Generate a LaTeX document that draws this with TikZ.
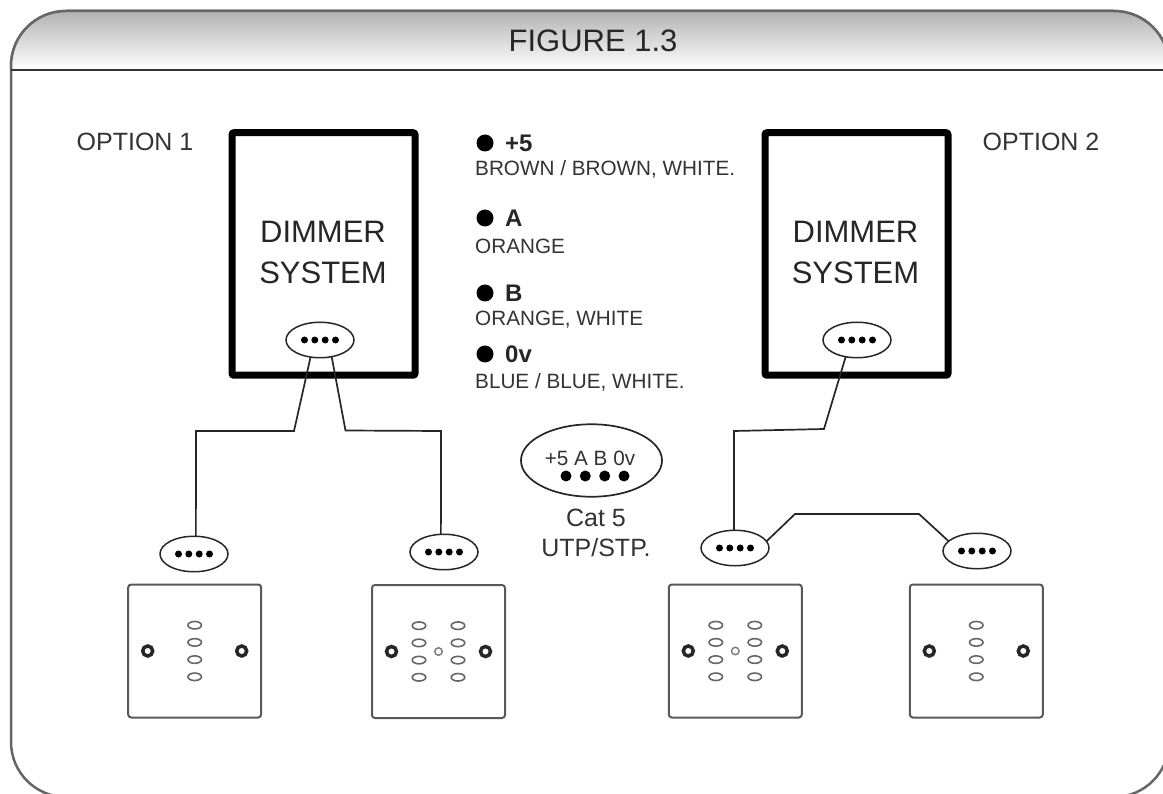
\documentclass[tikz,border=0pt]{standalone}
\usepackage{fontspec}
\setmainfont{Liberation Sans}
\usetikzlibrary{shapes.geometric}
\tikzset{dimmer/.style={draw=black,line width=7pt,rounded corners=2pt,minimum width=183pt,minimum height=242.5pt,inner sep=0pt,outer sep=0pt}}
\tikzset{dimmerlabel/.style={inner sep=0pt,align=center,text=black!85,font=\fontsize{31}{41}\selectfont}}
\tikzset{port/.style={ellipse,draw=black!85,line width=1.5pt,minimum width=68pt,minimum height=35.5pt,inner sep=0pt,outer sep=0pt}}
\tikzset{pin/.style={circle,fill=black,minimum size=7pt,inner sep=0pt,outer sep=0pt}}
\tikzset{plate/.style={draw=black!65,line width=2pt,rounded corners=3pt,minimum size=133pt,inner sep=0pt,outer sep=0pt}}
\tikzset{socket/.style={ellipse,draw=black!60,line width=1.6pt,minimum width=13.5pt,minimum height=7.5pt,inner sep=0pt,outer sep=0pt}}
\tikzset{screw/.style={circle,draw=black!85,line width=3.5pt,minimum size=10pt,inner sep=0pt,outer sep=0pt}}
\tikzset{hole/.style={circle,draw=black!50,line width=1.5pt,minimum size=7.5pt,inner sep=0pt,outer sep=0pt}}
\tikzset{wire/.style={draw=black!85,line width=1.7pt,line join=miter}}
\tikzset{bullet/.style={circle,fill=black,minimum size=17pt,inner sep=0pt,outer sep=0pt}}
\tikzset{keypin/.style={circle,fill=black,minimum size=11pt,inner sep=0pt,outer sep=0pt}}
\tikzset{biglabel/.style={inner sep=0pt,text=black!85,text height=22pt,text depth=0pt,font=\fontsize{31}{31}\selectfont}}
\tikzset{midlabel/.style={inner sep=0pt,text=black!80,text height=18pt,text depth=0pt,font=\fontsize{25}{25}\selectfont}}
\tikzset{pinlabel/.style={anchor=west,inner sep=0pt,text=black!85,text height=17pt,text depth=0pt,font=\fontsize{24}{24}\selectfont\bfseries}}
\tikzset{wirelabel/.style={anchor=west,inner sep=0pt,text=black!80,text height=15pt,text depth=0pt,font=\fontsize{20.7}{20.7}\selectfont}}

\begin{document}
\begin{tikzpicture}[x=1pt,y=-1pt]

\useasboundingbox (0,0) rectangle (1163,794);
\clip (0,0) rectangle (1163,794);

% frame and title bar
\draw[black!60,line width=2.5pt,rounded corners=55pt] (11,11) rectangle (1169,797);
\draw[black!60,line width=2.5pt,rounded corners=55pt,top color=black!30,bottom color=white] (11,70) -- (11,11) -- (1169,11) -- (1169,70);
\draw[black!80,line width=2pt] (11,70) -- (1169,70);
\node[biglabel] (title) at (593,41) {FIGURE 1.3};

\node[midlabel] (optionone) at (135,142) {OPTION 1};
\node[midlabel] (optiontwo) at (1041,142) {OPTION 2};

\node[dimmer] (dimmerone) at (323.5,254) {};
\node[dimmer] (dimmertwo) at (856.5,254) {};
\node[dimmerlabel] (systemone) at (323,252) {DIMMER\\SYSTEM};
\node[dimmerlabel] (systemtwo) at (855.5,252) {DIMMER\\SYSTEM};

\node[port] (portone) at (320,340) {};
\node[port] (porttwo) at (857,340) {};
\node[port] (portleft) at (194,554) {};
\node[port] (portmid) at (444,552) {};
\node[port] (portright) at (735,548) {};
\node[port] (portfar) at (977,551) {};
\foreach \port in {portone,porttwo,portleft,portmid,portright,portfar}
  \foreach \d [count=\n] in {-15.5,-5.2,5.2,15.5}
    \node[pin] (\port-\n) at ([xshift=\d]\port) {};

% wiring
\coordinate (leftbend) at (294,431);
\coordinate (leftdrop) at (196,431);
\coordinate (midbend) at (345.5,430.5);
\coordinate (middrop) at (441,431);
\coordinate (rightbend) at (824,429);
\coordinate (rightdrop) at (734,431);
\coordinate (linkstart) at (795,514);
\coordinate (linkend) at (919,514);
\draw[wire] (portone.241) -- (leftbend) -- (leftdrop) -- (portleft.84);
\draw[wire] (portone.305) -- (midbend) -- (middrop) -- (portmid.100);
\draw[wire] (porttwo.236) -- (rightbend) -- (rightdrop) -- (portright.93);
\draw[wire] (portright.12) -- (linkstart) -- (linkend) -- (portfar.161);

% colour key
\node[bullet] (bulletfive) at (485,143) {};
\node[pinlabel] (labelfive) at (505,143) {+5};
\node[wirelabel] (wirefive) at (475,168) {BROWN / BROWN, WHITE.};
\node[bullet] (bulleta) at (485,218) {};
\node[pinlabel] (labela) at (505,218) {A};
\node[wirelabel] (wirea) at (475,246) {ORANGE};
\node[bullet] (bulletb) at (485,293) {};
\node[pinlabel] (labelb) at (505,293) {B};
\node[wirelabel] (wireb) at (475,318) {ORANGE, WHITE};
\node[bullet] (bulletzero) at (485,354) {};
\node[pinlabel] (labelzero) at (505,354) {0v};
\node[wirelabel] (wirezero) at (475,381) {BLUE / BLUE, WHITE.};

% cable
\node[ellipse,draw=black!85,line width=1.7pt,minimum width=141pt,minimum height=72.5pt,inner sep=0pt,outer sep=0pt] (cable) at (591.5,460.5) {};
\node[wirelabel,anchor=center] (cablepins) at (590,458) {+5 A B 0v};
\foreach \x/\n in {566/a,585.3/b,604.7/c,624/d}
  \node[keypin] (keypin\n) at (\x,476) {};
\node[midlabel] (cablecat) at (596,517) {Cat 5};
\node[midlabel] (cabletype) at (596,547) {UTP/STP.};

% wall plates
\node[plate] (plateone) at (194.7,651) {};
\node[plate] (platetwo) at (438.5,651.5) {};
\node[plate] (platethree) at (735.3,651) {};
\node[plate] (platefour) at (976.3,651) {};
\foreach \plate in {plateone,platetwo,platethree,platefour} {
  \node[screw] (\plate-left) at ([xshift=-47]\plate) {};
  \node[screw] (\plate-right) at ([xshift=47]\plate) {};
}
\foreach \plate in {plateone,platefour}
  \foreach \d [count=\n] in {-25.8,-8.6,8.6,25.8}
    \node[socket] (\plate-\n) at ([yshift=\d]\plate) {};
\foreach \plate in {platetwo,platethree} {
  \node[hole] (\plate-hole) at (\plate) {};
  \foreach \d [count=\n] in {-25.8,-8.6,8.6,25.8} {
    \node[socket] (\plate-l\n) at ([xshift=-19.5,yshift=\d]\plate) {};
    \node[socket] (\plate-r\n) at ([xshift=19.5,yshift=\d]\plate) {};
  }
}

\end{tikzpicture}
\end{document}
